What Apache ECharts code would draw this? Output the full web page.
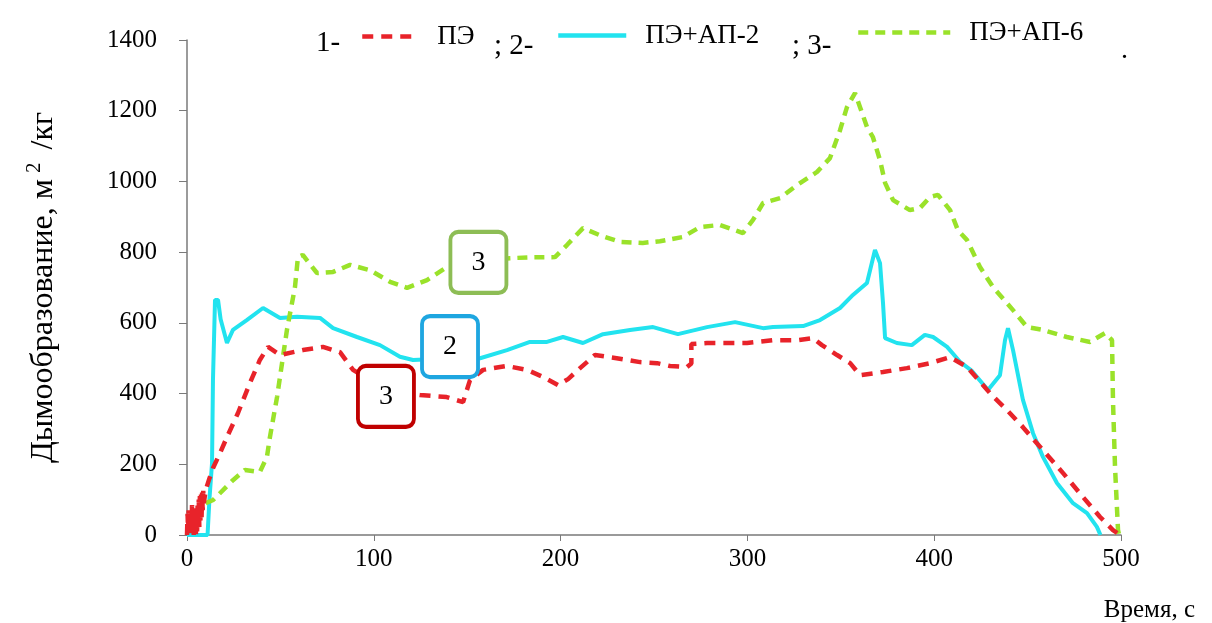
<!DOCTYPE html>
<html>
<head>
<meta charset="utf-8">
<script src="https://cdn.jsdelivr.net/npm/echarts@6/dist/echarts.min.js"></script>
<style>html,body{margin:0;padding:0;background:#fff}#c{width:1212px;height:623px}</style>
</head>
<body>
<div id="c"></div>
<script>
// ---- data (time, s ; smoke generation, m2/kg) ----
const seriesNames = ['ПЭ', 'ПЭ+АП-2', 'ПЭ+АП-6'];
const xTicks = [0, 100, 200, 300, 400, 500];
const yTicks = [0, 200, 400, 600, 800, 1000, 1200, 1400];

const peData = [
  [0,0],[0.3,60],[0.6,10],[0.9,70],[1.2,5],[1.5,75],[1.8,20],[2.1,80],[2.4,10],[2.7,85],[3,25],[3.3,80],[3.6,0],[3.9,70],[4.2,15],[4.5,65],
  [4.8,0],[5.1,75],[5.4,10],[5.7,90],[6,30],[6.3,100],[6.6,20],[6.9,110],[7.2,40],[7.5,115],[7.8,50],[8.1,120],[8.4,70],[8.7,125],[9,90],[10,127],
  [12,160],[14,190],[17.7,232],[21.4,277],[27.3,345],[33.7,430],[39,495],[43.4,532],[49.8,509],[62,523],[72.8,532],[81.9,517],[88.9,467],
  [100,430],[112,405],[124.7,396],[139,390],[147.8,376],[151.5,438],[158.5,467],[167.6,475],[171.3,478],[182,467],[190.6,447],[198.6,424],
  [204,441],[210.4,472],[218.4,509],[230,500],[242.5,489],[251.6,486],[258.6,478],[267.7,475],[270,485],[270,540],[278.4,543],[299.8,543],
  [313.7,551],[326.6,551],[335,557],[339.9,537],[348,509],[355,486],[360.3,452],[372.6,461],[385.4,472],[397.8,486],[408.5,503],
  [417.6,475],[429.9,401],[439,353],[447.5,305],[458.2,240],[469,175],[479.7,107],[488.8,51],[495.7,14],[499.5,0]
];
const ap2Data = [
  [0,0],[11,0],[12,100],[13.4,203],[13.9,438],[15,665],[16.6,665],[18,610],[21.4,543],[24.6,580],[32,608],[40.7,642],[49.8,614],[58.9,617],
  [71.2,614],[78.2,585],[91,560],[103.3,537],[114,504],[121,495],[130,497],[140,498],[150,497],[156.9,500],[171.3,523],[183.6,546],[192.7,546],
  [201.3,560],[212,543],[222.7,568],[237.2,580],[249.5,588],[262.8,568],[278.4,588],[293.4,602],[308.4,585],[313.7,588],[329.8,591],[338.9,608],
  [349.6,642],[356.5,679],[364,713],[368.3,806],[371,769],[372.6,656],[373.7,557],[380,543],[388,537],[395,566],[399.4,560],[406.9,532],
  [413.8,490],[420,465],[428.8,410],[435.2,452],[437.9,551],[439.5,585],[442.2,523],[447.5,382],[452.9,288],[458.2,221],[465.7,147],
  [474.3,90],[481.8,62],[487.1,23],[489,0]
];
const ap6Data = [
  [10,90],[14,99],[24.6,155],[31,184],[39,178],[42.8,221],[44.4,277],[48.2,390],[53.5,580],[57.8,701],[59.4,786],[62,792],[69.6,741],[78.2,744],
  [87.3,764],[98,749],[108.7,716],[117.8,699],[128.5,721],[139.2,758],[156,775],[172.9,783],[183,785],[197,786],[203.4,820],[212,868],[221,848],
  [231.8,829],[244,826],[253.2,831],[265.5,843],[274.6,871],[285.3,877],[297.6,854],[303,891],[308.4,939],[317.5,953],[326.6,990],[337.3,1027],
  [344.2,1066],[349.6,1145],[353.3,1210],[357.6,1250],[360.3,1210],[364,1154],[367.2,1125],[371,1060],[373.7,996],[378,947],[387,919],
  [392.4,925],[397.8,956],[402,962],[408.5,919],[412.7,862],[417.6,834],[424.5,758],[431.5,701],[442.2,636],[449.7,588],[458.2,580],
  [471,560],[483.4,546],[491.4,571],[495.2,551],[495.7,382],[496.8,192],[498.4,14],[499,0]
];
// annotation boxes: [time, value, label]
const boxPE = [106.5, 392, '3'];
const boxAP2 = [140.8, 533, '2'];
const boxAP6 = [156, 771, '3'];

const SERIF = "'Liberation Serif','Times New Roman',serif";
const RR = 'path://M8,0 H48 A8,8 0 0 1 56,8 V54 A8,8 0 0 1 48,62 H8 A8,8 0 0 1 0,54 V8 A8,8 0 0 1 8,0 Z';
const COLORS = ['#e8232a', '#22e3ef', '#9ae22a'];
const DASHES = [[11, 8], 'solid', [10, 7]];
function box(b, color) {
  return {
    symbol: RR, symbolSize: [56, 61], silent: true,
    itemStyle: {color: '#fff', borderColor: color, borderWidth: 4},
    label: {show: true, position: 'inside', color: '#000', fontSize: 28, fontFamily: SERIF, formatter: b[2]},
    data: [{coord: [b[0], b[1]]}]
  };
}
function legendFor(i, left, top, w) {
  return {
    data: [seriesNames[i]], left: left, top: top, itemWidth: w, itemHeight: 22,
    orient: 'horizontal', selectedMode: false, padding: 0,
    itemStyle: {opacity: 0, borderWidth: 0},
    lineStyle: {color: COLORS[i], width: 4.5, type: DASHES[i], opacity: 1},
    textStyle: {fontFamily: SERIF, fontSize: 27, color: '#000', padding: [0, 0, 0, 14]}
  };
}
const chart = echarts.init(document.getElementById('c'));
chart.setOption({
  animation: false,
  backgroundColor: '#fff',
  grid: {left: 187, right: 91, top: 40, bottom: 88, containLabel: false},
  legend: [
    legendFor(0, 360, 23, 56),
    legendFor(1, 556, 22, 68),
    legendFor(2, 856, 19, 92)
  ],
  graphic: [
    {type: 'text', left: 316, top: 29, style: {text: '1-', font: '29px ' + SERIF, fill: '#000'}},
    {type: 'text', left: 494, top: 32, style: {text: '; 2-', font: '29px ' + SERIF, fill: '#000'}},
    {type: 'text', left: 792, top: 32, style: {text: '; 3-', font: '29px ' + SERIF, fill: '#000'}},
    {type: 'text', left: 1121, top: 37, style: {text: '.', font: '28px ' + SERIF, fill: '#000'}}
  ],
  xAxis: {
    type: 'value', min: 0, max: 500, interval: 100,
    name: 'Время, с', nameLocation: 'end', nameGap: 74,
    nameTextStyle: {fontFamily: SERIF, fontSize: 25, color: '#000', align: 'right', verticalAlign: 'top', padding: [63, 0, 0, 0]},
    axisLine: {lineStyle: {color: '#7a7a7a', width: 1.5}},
    axisTick: {show: true, length: 6, lineStyle: {color: '#7a7a7a'}},
    axisLabel: {fontFamily: SERIF, fontSize: 25, color: '#000', margin: 12,
      formatter: v => xTicks.includes(v) ? String(v) : ''},
    splitLine: {show: false}
  },
  yAxis: {
    type: 'value', min: 0, max: 1400, interval: 200,
    name: 'Дымообразование, м{sup|2} /кг', nameLocation: 'middle', nameRotate: 90, nameGap: 124,
    nameTextStyle: {fontFamily: SERIF, fontSize: 32, color: '#000',
      rich: {sup: {fontFamily: SERIF, fontSize: 21, color: '#000', verticalAlign: 'bottom', padding: [0, 5, 18, 6]}}},
    axisLine: {show: true, lineStyle: {color: '#7a7a7a', width: 1.5}},
    axisTick: {show: true, length: 8, lineStyle: {color: '#7a7a7a'}},
    axisLabel: {fontFamily: SERIF, fontSize: 25, color: '#000', margin: 30,
      formatter: v => yTicks.includes(v) ? String(v) : ''},
    splitLine: {show: false}
  },
  series: [
    {name: seriesNames[0], type: 'line', data: peData, symbol: 'none', z: 3,
      color: COLORS[0], lineStyle: {color: COLORS[0], width: 4.5, type: DASHES[0]}, markPoint: box(boxPE, '#c00000')},
    {name: seriesNames[1], type: 'line', data: ap2Data, symbol: 'none', z: 2,
      color: COLORS[1], lineStyle: {color: COLORS[1], width: 4}, markPoint: box(boxAP2, '#1ea6e0')},
    {name: seriesNames[2], type: 'line', data: ap6Data, symbol: 'none', z: 2,
      color: COLORS[2], lineStyle: {color: COLORS[2], width: 4.5, type: DASHES[2]}, markPoint: box(boxAP6, '#8dbd55')}
  ]
});
</script>
</body>
</html>
